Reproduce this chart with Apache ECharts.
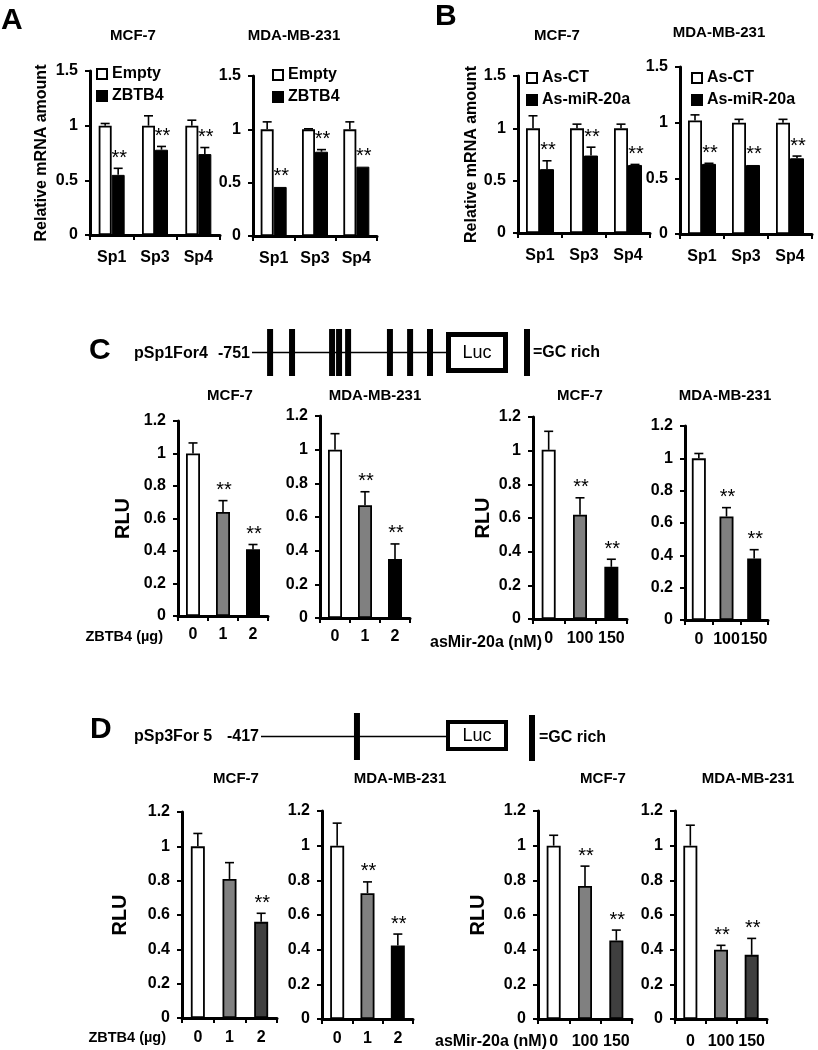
<!DOCTYPE html>
<html><head><meta charset="utf-8">
<script src="https://cdn.jsdelivr.net/npm/echarts@6/dist/echarts.min.js"></script>
<style>html,body{margin:0;padding:0;background:#fff}#c{width:818px;height:1050px}</style>
</head><body><div id="c"></div>
<script>
// ---------- categories ----------
const spCats = ['Sp1', 'Sp3', 'Sp4'];
const zbtbDoses = ['0', '1', '2'];
const mirDoses = ['0', '100', '150'];

// ---------- Panel A : relative mRNA (Empty vs ZBTB4) ----------
const aMcfEmpty = [1, 1, 1];
const aMcfEmptyErr = [0.02, 0.09, 0.05];
const aMcfZbtb4 = [0.55, 0.78, 0.74];
const aMcfZbtb4Err = [0.06, 0.03, 0.06];
const aMcfZbtb4Sig = ['**', '**', '**'];
const aMdaEmpty = [1, 1, 1];
const aMdaEmptyErr = [0.07, 0.005, 0.07];
const aMdaZbtb4 = [0.46, 0.79, 0.65];
const aMdaZbtb4Err = [0, 0.02, 0];
const aMdaZbtb4Sig = ['**', '**', '**'];

// ---------- Panel B : relative mRNA (As-CT vs As-miR-20a) ----------
const bMcfCt = [1, 1, 1];
const bMcfCtErr = [0.12, 0.04, 0.04];
const bMcfMir = [0.61, 0.74, 0.65];
const bMcfMirErr = [0.08, 0.08, 0.005];
const bMcfMirSig = ['**', '**', '**'];
const bMdaCt = [1.02, 1, 1];
const bMdaCtErr = [0.05, 0.03, 0.03];
const bMdaMir = [0.63, 0.62, 0.68];
const bMdaMirErr = [0.005, 0, 0.02];
const bMdaMirSig = ['**', '**', '**'];

// ---------- Panel C : RLU pSp1For4 ----------
const cMcfZbtb4 = [1, 0.64, 0.41];
const cMcfZbtb4Err = [0.065, 0.07, 0.03];
const cMcfZbtb4Sig = ['', '**', '**'];
const cMdaZbtb4 = [1, 0.67, 0.35];
const cMdaZbtb4Err = [0.095, 0.08, 0.09];
const cMdaZbtb4Sig = ['', '**', '**'];
const cMcfMir = [1.005, 0.62, 0.31];
const cMcfMirErr = [0.11, 0.10, 0.045];
const cMcfMirSig = ['', '**', '**'];
const cMdaMir = [1.0, 0.64, 0.38];
const cMdaMirErr = [0.03, 0.055, 0.055];
const cMdaMirSig = ['', '**', '**'];

// ---------- Panel D : RLU pSp3For5 ----------
const dMcfZbtb4 = [1, 0.81, 0.56];
const dMcfZbtb4Err = [0.075, 0.095, 0.05];
const dMcfZbtb4Sig = ['', '', '**'];
const dMdaZbtb4 = [1, 0.726, 0.424];
const dMdaZbtb4Err = [0.13, 0.065, 0.066];
const dMdaZbtb4Sig = ['', '**', '**'];
const dMcfMir = [1, 0.767, 0.453];
const dMcfMirErr = [0.06, 0.115, 0.06];
const dMcfMirSig = ['', '**', '**'];
const dMdaMir = [1, 0.40, 0.37];
const dMdaMirErr = [0.118, 0.025, 0.095];
const dMdaMirSig = ['', '**', '**'];

// ---------- promoter diagrams (bp positions) ----------
const promC = [-751, 0];
const gcSitesC = [-681, -596, -441, -414, -379, -217, -139, -62];
const promD = [-417, 0];
const gcSitesD = [-203];

// ---------- styling / layout ----------
const FONT = '"Liberation Sans", Arial, sans-serif';
const WHITE = {color: '#ffffff', borderColor: '#000', borderWidth: 1.8};
const BLACK = {color: '#000000', borderColor: '#000', borderWidth: 1};
const fillsC = ['#ffffff', '#808080', '#000000'];
const fillsDdark = ['#ffffff', '#808080', '#3f3f3f'];

const grids = [
  {left: 90, top: 71, width: 130, height: 164},   // A MCF-7
  {left: 253, top: 76, width: 124, height: 160},  // A MDA
  {left: 518, top: 76, width: 132, height: 157},  // B MCF-7
  {left: 680, top: 67, width: 132, height: 167},  // B MDA
  {left: 178, top: 421, width: 90, height: 195},  // C1
  {left: 320, top: 416, width: 90, height: 202},  // C2
  {left: 533, top: 417, width: 94, height: 202},  // C3
  {left: 685, top: 426, width: 83, height: 194},  // C4
  {left: 182, top: 812, width: 95, height: 206},  // D1
  {left: 322, top: 811, width: 91, height: 208},  // D2
  {left: 538, top: 811, width: 94, height: 208},  // D3
  {left: 675, top: 811, width: 92, height: 210},  // D4
  {left: 252, top: 329, width: 194, height: 47},  // diagram C
  {left: 261, top: 713, width: 187, height: 47}   // diagram D
];

function yAx(gi, max, interval, name, nameGap, nameSize) {
  return {
    type: 'value', gridIndex: gi, min: 0, max: max, interval: interval,
    axisLine: {show: true, lineStyle: {color: '#000', width: 3}},
    axisTick: {show: true, length: 5, lineStyle: {color: '#000', width: 2}},
    splitLine: {show: false},
    axisLabel: {color: '#000', fontSize: 16, fontWeight: 'bold', fontFamily: FONT, margin: 12},
    name: name || '', nameLocation: 'middle', nameGap: nameGap || 30,
    nameTextStyle: {color: '#000', fontSize: nameSize || 16, fontWeight: 'bold', fontFamily: FONT}
  };
}
function xAx(gi, cats, margin) {
  return {
    type: 'category', gridIndex: gi, data: cats,
    axisLine: {show: true, lineStyle: {color: '#000', width: 3}},
    axisTick: {show: true, length: 5, interval: 0, lineStyle: {color: '#000', width: 2}},
    axisLabel: {color: '#000', fontSize: 16, fontWeight: 'bold', fontFamily: FONT, margin: margin,
      interval: 0, hideOverlap: false}
  };
}
function bar(gi, name, vals, style, bw) {
  return {type: 'bar', name: name, xAxisIndex: gi, yAxisIndex: gi, data: vals,
    barWidth: bw, barGap: '0%', itemStyle: style, silent: true, z: 2};
}
function barColored(gi, vals, fills, bw) {
  return {type: 'bar', xAxisIndex: gi, yAxisIndex: gi, barWidth: bw, silent: true, z: 2,
    data: vals.map((v, i) => ({value: v, itemStyle: {color: fills[i], borderColor: '#000', borderWidth: 1.8}}))};
}
function errS(gi, vals, errs, sigs, xOff) {
  return {
    type: 'custom', xAxisIndex: gi, yAxisIndex: gi, silent: true, z: 5,
    data: vals.map((v, i) => [i, v, errs[i]]),
    renderItem: function (params, api) {
      const i = api.value(0), v = api.value(1), e = api.value(2);
      const b = api.coord([i, v]);
      const t = api.coord([i, v + e]);
      const x = b[0] + xOff;
      const ch = [];
      if (e > 0.004) {
        ch.push({type: 'line', shape: {x1: x, y1: b[1], x2: x, y2: t[1]}, style: {stroke: '#000', lineWidth: 1.6}});
        ch.push({type: 'line', shape: {x1: x - 4.5, y1: t[1], x2: x + 4.5, y2: t[1]}, style: {stroke: '#000', lineWidth: 1.6}});
      }
      const s = sigs ? sigs[params.dataIndex] : '';
      if (s) {
        ch.push({type: 'text', x: x + 1, y: t[1] - 10,
          style: {text: s, fill: '#000', font: '20px ' + FONT, align: 'center', verticalAlign: 'middle',
            textAlign: 'center', textVerticalAlign: 'middle'}});
      }
      return {type: 'group', children: ch};
    }
  };
}
function T(x, y, text, font, align) {
  return {type: 'text', x: x, y: y, silent: true,
    style: {text: text, font: font, fill: '#000', align: align || 'center', verticalAlign: 'middle',
      textAlign: align || 'center', textVerticalAlign: 'middle'}};
}

const xAxes = [
  xAx(0, spCats, 15), xAx(1, spCats, 15), xAx(2, spCats, 15), xAx(3, spCats, 15),
  xAx(4, zbtbDoses, 11), xAx(5, zbtbDoses, 11), xAx(6, mirDoses, 12), xAx(7, mirDoses, 12),
  xAx(8, zbtbDoses, 12), xAx(9, zbtbDoses, 12), xAx(10, mirDoses, 15), xAx(11, mirDoses, 15),
  {type: 'value', gridIndex: 12, min: promC[0], max: promC[1], show: false},
  {type: 'value', gridIndex: 13, min: promD[0], max: promD[1], show: false}
];
const yAxes = [
  yAx(0, 1.5, 0.5, 'Relative mRNA amount', 40, 16), yAx(1, 1.5, 0.5), yAx(2, 1.5, 0.5, 'Relative mRNA amount', 38, 16), yAx(3, 1.5, 0.5),
  yAx(4, 1.2, 0.2, 'RLU', 45, 20), yAx(5, 1.2, 0.2), yAx(6, 1.2, 0.2, 'RLU', 40, 20), yAx(7, 1.2, 0.2),
  yAx(8, 1.2, 0.2, 'RLU', 52, 20), yAx(9, 1.2, 0.2), yAx(10, 1.2, 0.2, 'RLU', 50, 20), yAx(11, 1.2, 0.2),
  {type: 'value', gridIndex: 12, min: 0, max: 1, show: false},
  {type: 'value', gridIndex: 13, min: 0, max: 1, show: false}
];

const series = [
  // A
  bar(0, 'Empty', aMcfEmpty, WHITE, 13), bar(0, 'ZBTB4', aMcfZbtb4, BLACK, 13),
  errS(0, aMcfEmpty, aMcfEmptyErr, null, -6.5), errS(0, aMcfZbtb4, aMcfZbtb4Err, aMcfZbtb4Sig, 6.5),
  bar(1, 'Empty', aMdaEmpty, WHITE, 13), bar(1, 'ZBTB4', aMdaZbtb4, BLACK, 13),
  errS(1, aMdaEmpty, aMdaEmptyErr, null, -6.5), errS(1, aMdaZbtb4, aMdaZbtb4Err, aMdaZbtb4Sig, 6.5),
  // B
  bar(2, 'As-CT', bMcfCt, WHITE, 14), bar(2, 'As-miR-20a', bMcfMir, BLACK, 14),
  errS(2, bMcfCt, bMcfCtErr, null, -7), errS(2, bMcfMir, bMcfMirErr, bMcfMirSig, 7),
  bar(3, 'As-CT', bMdaCt, WHITE, 14), bar(3, 'As-miR-20a', bMdaMir, BLACK, 14),
  errS(3, bMdaCt, bMdaCtErr, null, -7), errS(3, bMdaMir, bMdaMirErr, bMdaMirSig, 7),
  // C
  barColored(4, cMcfZbtb4, fillsC, 14), errS(4, cMcfZbtb4, cMcfZbtb4Err, cMcfZbtb4Sig, 0),
  barColored(5, cMdaZbtb4, fillsC, 14), errS(5, cMdaZbtb4, cMdaZbtb4Err, cMdaZbtb4Sig, 0),
  barColored(6, cMcfMir, fillsC, 14), errS(6, cMcfMir, cMcfMirErr, cMcfMirSig, 0),
  barColored(7, cMdaMir, fillsC, 14), errS(7, cMdaMir, cMdaMirErr, cMdaMirSig, 0),
  // D
  barColored(8, dMcfZbtb4, fillsDdark, 14), errS(8, dMcfZbtb4, dMcfZbtb4Err, dMcfZbtb4Sig, 0),
  barColored(9, dMdaZbtb4, fillsC, 14), errS(9, dMdaZbtb4, dMdaZbtb4Err, dMdaZbtb4Sig, 0),
  barColored(10, dMcfMir, fillsDdark, 14), errS(10, dMcfMir, dMcfMirErr, dMcfMirSig, 0),
  barColored(11, dMdaMir, fillsDdark, 14), errS(11, dMdaMir, dMdaMirErr, dMdaMirSig, 0),
  // diagrams
  {type: 'line', xAxisIndex: 12, yAxisIndex: 12, data: promC.map(p => [p, 0.5]), symbol: 'none', silent: true,
    lineStyle: {color: '#000', width: 1.5}},
  {type: 'scatter', xAxisIndex: 12, yAxisIndex: 12, data: gcSitesC.map(p => [p, 0.5]), symbol: 'rect',
    symbolSize: [6, 47], itemStyle: {color: '#000', opacity: 1}, silent: true},
  {type: 'line', xAxisIndex: 13, yAxisIndex: 13, data: promD.map(p => [p, 0.5]), symbol: 'none', silent: true,
    lineStyle: {color: '#000', width: 1.5}},
  {type: 'scatter', xAxisIndex: 13, yAxisIndex: 13, data: gcSitesD.map(p => [p, 0.5]), symbol: 'rect',
    symbolSize: [6, 47], itemStyle: {color: '#000', opacity: 1}, silent: true}
];

const legStyle = {orient: 'vertical', icon: 'rect', itemWidth: 10, itemHeight: 10, itemGap: 6, selectedMode: false,
  textStyle: {color: '#000', fontSize: 16, fontWeight: 'bold', fontFamily: FONT}, padding: 0};
const legends = [
  Object.assign({data: ['Empty', 'ZBTB4'], left: 96, top: 66}, legStyle),
  Object.assign({data: ['Empty', 'ZBTB4'], left: 272, top: 67}, legStyle),
  Object.assign({data: ['As-CT', 'As-miR-20a'], left: 526, top: 70}, legStyle),
  Object.assign({data: ['As-CT', 'As-miR-20a'], left: 691, top: 70}, legStyle)
];

const BT = 'bold 15px ' + FONT;
const graphics = [
  T(1, 21, 'A', 'bold 30px ' + FONT, 'left'),
  T(435, 17, 'B', 'bold 30px ' + FONT, 'left'),
  T(89, 351, 'C', 'bold 30px ' + FONT, 'left'),
  T(90, 730, 'D', 'bold 30px ' + FONT, 'left'),
  T(133, 36, 'MCF-7', BT), T(294, 36, 'MDA-MB-231', BT), T(557, 36, 'MCF-7', BT), T(719, 33, 'MDA-MB-231', BT),
  T(230, 396, 'MCF-7', BT), T(375, 396, 'MDA-MB-231', BT), T(580, 396, 'MCF-7', BT), T(725, 396, 'MDA-MB-231', BT),
  T(236, 779, 'MCF-7', BT), T(400, 779, 'MDA-MB-231', BT), T(603, 779, 'MCF-7', BT), T(748, 779, 'MDA-MB-231', BT),
  T(163, 637, 'ZBTB4 (µg)', 'bold 14.5px ' + FONT, 'right'),
  T(542, 643, 'asMir-20a (nM)', 'bold 16px ' + FONT, 'right'),
  T(166, 1038, 'ZBTB4 (µg)', 'bold 14.5px ' + FONT, 'right'),
  T(547, 1042, 'asMir-20a (nM)', 'bold 16px ' + FONT, 'right'),
  // diagram C
  T(134, 354, 'pSp1For4', 'bold 16px ' + FONT, 'left'),
  T(250, 354, '-751', 'bold 16px ' + FONT, 'right'),
  {type: 'rect', shape: {x: 448.5, y: 334.5, width: 57, height: 36}, style: {fill: '#fff', stroke: '#000', lineWidth: 5}, silent: true},
  T(477, 353, 'Luc', '18px ' + FONT),
  {type: 'rect', shape: {x: 524, y: 329, width: 6, height: 47}, style: {fill: '#000'}, silent: true},
  T(533, 353, '=GC rich', 'bold 16px ' + FONT, 'left'),
  // diagram D
  T(134, 737, 'pSp3For 5', 'bold 16px ' + FONT, 'left'),
  T(259, 737, '-417', 'bold 16px ' + FONT, 'right'),
  {type: 'rect', shape: {x: 448, y: 722, width: 58, height: 27}, style: {fill: '#fff', stroke: '#000', lineWidth: 4}, silent: true},
  T(477, 736, 'Luc', '18px ' + FONT),
  {type: 'rect', shape: {x: 529, y: 715, width: 6, height: 46}, style: {fill: '#000'}, silent: true},
  T(539, 738, '=GC rich', 'bold 16px ' + FONT, 'left')
];

const chart = echarts.init(document.getElementById('c'), null, {renderer: 'canvas'});
chart.setOption({
  backgroundColor: '#ffffff',
  animation: false,
  textStyle: {fontFamily: FONT},
  grid: grids,
  xAxis: xAxes,
  yAxis: yAxes,
  legend: legends,
  series: series,
  graphic: graphics
});
</script></body></html>
